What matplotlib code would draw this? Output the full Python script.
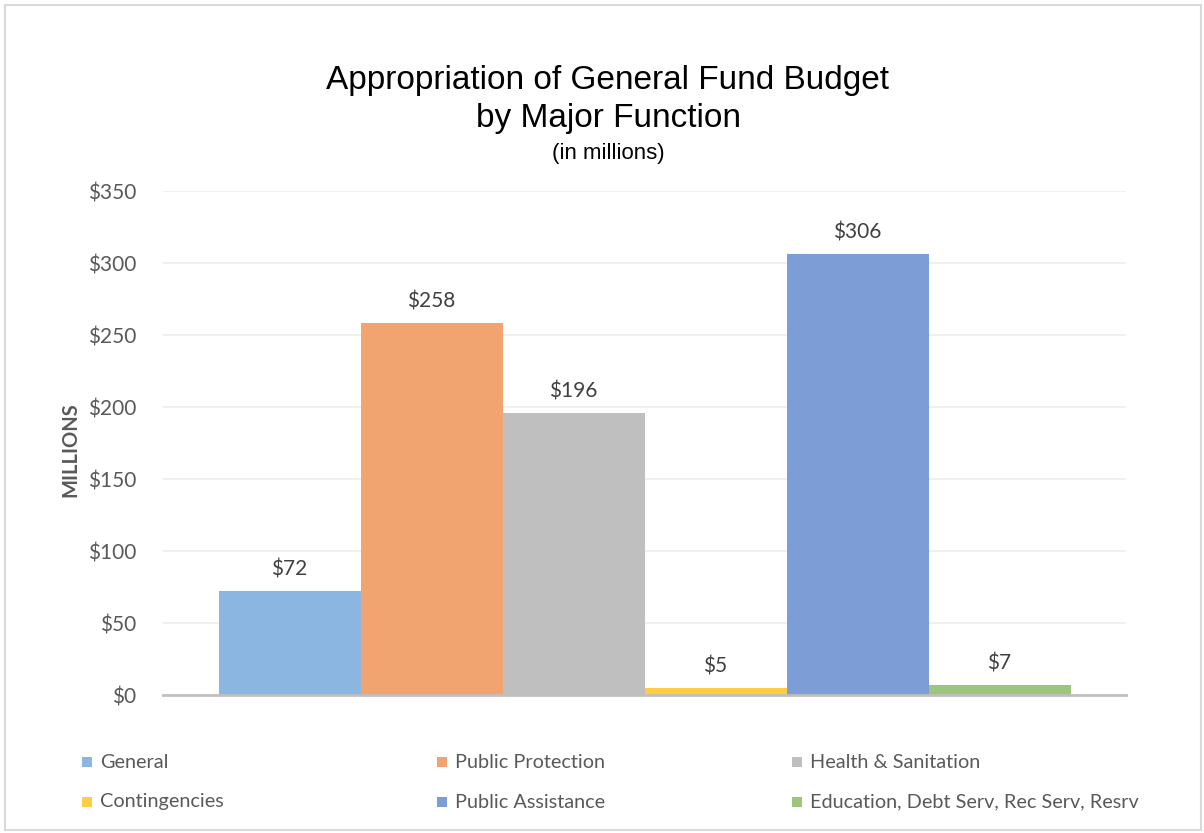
import matplotlib.pyplot as plt
from matplotlib.patches import Rectangle

categories = ["General", "Public Protection", "Health & Sanitation",
              "Contingencies", "Public Assistance", "Education, Debt Serv, Rec Serv, Resrv"]
values = [72, 258, 196, 5, 306, 7]
colors = ["#8AB6E1", "#F1A46F", "#BFBFBF", "#FFCD44", "#7C9DD5", "#9CC57E"]
yticks = [0, 50, 100, 150, 200, 250, 300, 350]

W, H = 1204, 833
fig = plt.figure(figsize=(W / 100, H / 100), dpi=100)
fig.patch.set_facecolor("white")
# outer border
fig.add_artist(Rectangle((5 / W, 3 / H), (W - 8) / W, (H - 8) / H, transform=fig.transFigure,
                         fill=False, edgecolor="#D9D9D9", linewidth=1.5))

ax = fig.add_axes([163 / W, 1 - 695 / H, (1126 - 163) / W, (695 - 191) / H])
bw = 142 / 963
n = len(values)
for i, (v, c, lab) in enumerate(zip(values, colors, categories)):
    x = (i - (n - 1) / 2) * bw
    ax.bar(x, v, width=bw, color=c, label=lab, zorder=2)
    ax.text(x, v + 8, f"${v}", ha="center", va="bottom", fontsize=15,
            color="#404040", family="Lato")

ax.set_xlim(-0.5, 0.5)
ax.set_ylim(0, 350)
ax.set_yticks(yticks)
ax.set_yticklabels([f"${t}" for t in yticks], fontsize=15, color="#595959", family="Lato")
ax.tick_params(axis="y", length=0, pad=19)
ax.set_xticks([])
ax.grid(axis="y", color="#EDEDED", linewidth=1.2, zorder=0)
for s in ["top", "right", "left"]:
    ax.spines[s].set_visible(False)
ax.spines["bottom"].set_color("#BFBFBF")
ax.spines["bottom"].set_linewidth(2)
ax.spines["bottom"].set_zorder(3)

fig.text(70 / W, 1 - 450 / H, "MILLIONS", rotation=90, ha="center", va="center",
         fontsize=14.5, color="#595959", family="Lato", fontweight="bold")

fig.text(608 / W, 1 - 80 / H, "Appropriation of General Fund Budget", ha="center", va="center",
         fontsize=24, color="black", family="Liberation Sans")
fig.text(608 / W, 1 - 118 / H, "by Major Function", ha="center", va="center",
         fontsize=24, color="black", family="Liberation Sans")
fig.text(608 / W, 1 - 153 / H, "(in millions)", ha="center", va="center",
         fontsize=16, color="black", family="Liberation Sans")

# legend: 3 columns, 2 rows, row-major
col_x = [82, 437, 792]
row_y = [762, 802]
for i, (lab, c) in enumerate(zip(categories, colors)):
    cx = col_x[i % 3]
    cy = row_y[i // 3]
    fig.add_artist(Rectangle((cx / W, 1 - (cy + 5) / H), 10 / W, 10 / H,
                             transform=fig.transFigure, facecolor=c, edgecolor="none"))
    fig.text((cx + 18) / W, 1 - cy / H, lab, ha="left", va="center",
             fontsize=14.3, color="#595959", family="Lato")

fig.savefig("out.png", dpi=100)
